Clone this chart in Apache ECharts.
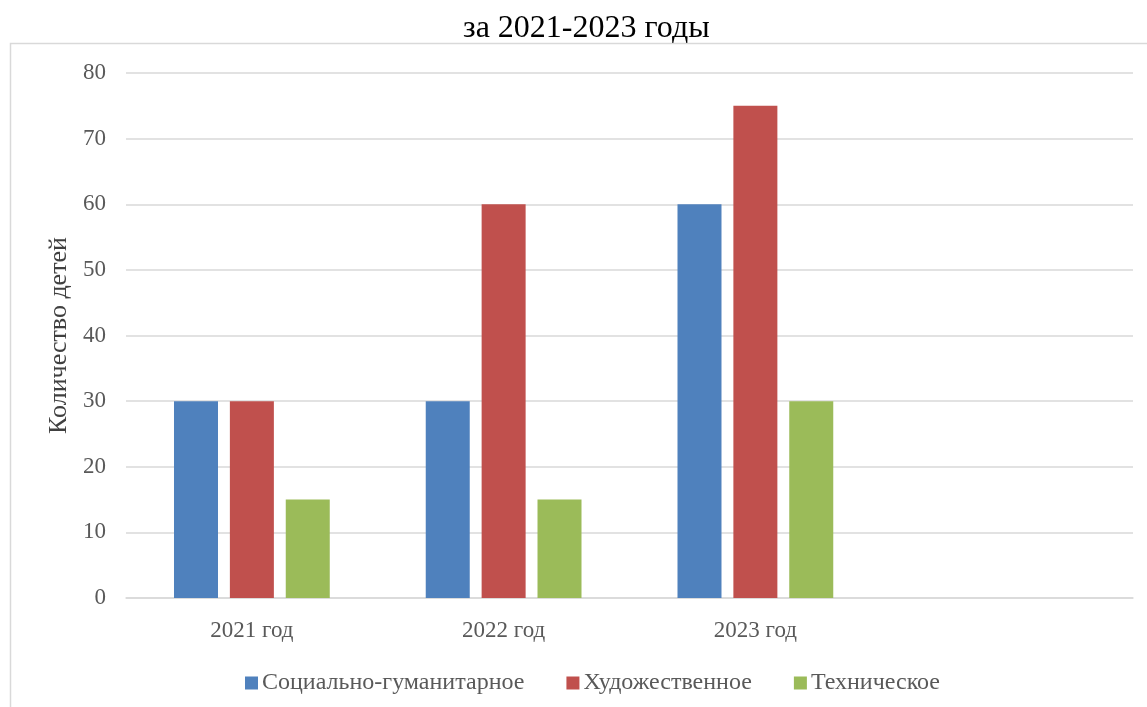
<!DOCTYPE html>
<html><head><meta charset="utf-8">
<script src="https://cdn.jsdelivr.net/npm/echarts@6/dist/echarts.min.js"></script>
<style>html,body{margin:0;padding:0;background:#fff}#c{width:1147px;height:707px}</style>
</head><body><div id="c"></div>
<script>
const categories = ['2021 год', '2022 год', '2023 год', ''];
const seriesNames = ['Социально-гуманитарное', 'Художественное', 'Техническое'];
const social = [30, 30, 60, null];
const art = [30, 60, 75, null];
const tech = [15, 15, 30, null];
const colors = ['#4f81bd', '#c0504d', '#9bbb59'];
const font = '"Liberation Serif", "Times New Roman", serif';

const chart = echarts.init(document.getElementById('c'));
chart.setOption({
  animation: false,
  textStyle: { fontFamily: font },
  graphic: [{
    type: 'rect', shape: { x: 10.5, y: 43.5, width: 1200, height: 700 },
    style: { fill: 'none', stroke: '#d9d9d9', lineWidth: 1.5 }, silent: true
  }],
  title: {
    text: 'за 2021-2023 годы', left: 463, top: 13, padding: 0,
    textStyle: { fontFamily: font, fontSize: 32, fontWeight: 'normal', color: '#000' }
  },
  legend: {
    data: seriesNames, left: 240, top: 666, itemWidth: 13, itemHeight: 13, itemGap: 42,
    icon: 'rect',
    textStyle: { fontFamily: font, fontSize: 24, color: '#595959', padding: [0, 0, 0, -1] }
  },
  grid: { left: 126, right: 14, top: 73, bottom: 109 },
  xAxis: {
    type: 'category', data: categories,
    axisLine: { lineStyle: { color: '#d9d9d9', width: 1.5 } },
    axisTick: { show: false },
    axisLabel: { fontFamily: font, fontSize: 23, color: '#595959', margin: 21 }
  },
  yAxis: {
    type: 'value', min: 0, max: 80, interval: 10,
    name: 'Количество детей', nameLocation: 'middle', nameGap: 53, nameRotate: 90,
    nameTextStyle: { fontFamily: font, fontSize: 26, color: '#404040' },
    axisLine: { show: false }, axisTick: { show: false },
    splitLine: { lineStyle: { color: '#d9d9d9', width: 1.5 } },
    axisLabel: { fontFamily: font, fontSize: 23, color: '#595959', margin: 20 }
  },
  series: [
    { name: seriesNames[0], type: 'bar', data: social, barWidth: 44, barGap: '27%', itemStyle: { color: colors[0] } },
    { name: seriesNames[1], type: 'bar', data: art, barWidth: 44, barGap: '27%', itemStyle: { color: colors[1] } },
    { name: seriesNames[2], type: 'bar', data: tech, barWidth: 44, barGap: '27%', itemStyle: { color: colors[2] } }
  ]
});
</script></body></html>
